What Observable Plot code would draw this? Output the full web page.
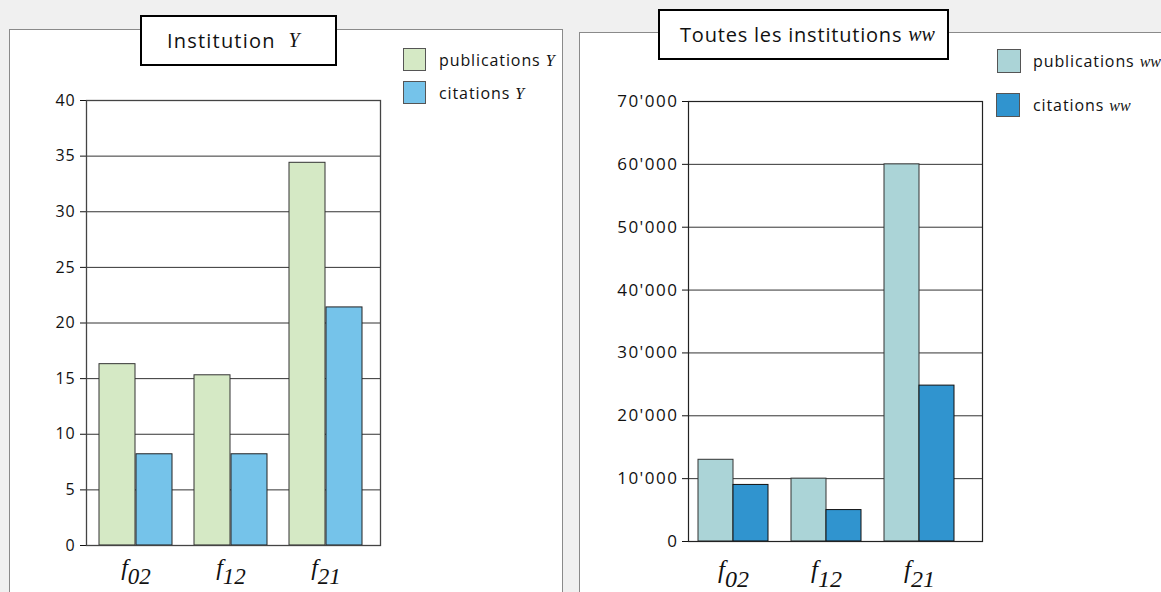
<!DOCTYPE html>
<html><head><meta charset="utf-8">
<script src="https://cdn.jsdelivr.net/npm/d3@7"></script>
<script src="https://cdn.jsdelivr.net/npm/@observablehq/plot@0.6"></script>
<style>
html,body{margin:0;padding:0}
body{background:#f0f0f0;width:1161px;height:592px;overflow:hidden;position:relative;font-family:"Open Sans",sans-serif;color:#111}
.panel{position:absolute;background:#fff;border:1px solid #8a8a8a}
.title{position:absolute;background:#fff;border:2px solid #000;box-sizing:border-box;display:flex;align-items:center;justify-content:flex-start;font-size:20px;letter-spacing:1.2px;color:#111;white-space:nowrap}
.it{font-family:"Liberation Serif",serif;font-style:italic;letter-spacing:0}
.sw{position:absolute;border:1px solid #555;box-sizing:border-box}
.lt{position:absolute;height:22px;line-height:22px;font-size:16px;letter-spacing:0.9px;white-space:nowrap}
.chart{position:absolute;top:0}
</style>
</head><body>
<div class="panel" style="left:9px;top:29px;width:552px;height:600px"></div>
<div class="panel" style="left:579px;top:32px;width:600px;height:600px"></div>
<div class="chart" id="left" style="left:0px"></div>
<div class="chart" id="right" style="left:579px"></div>
<div class="title" style="left:140px;top:15px;width:197px;height:51px;padding-left:25px">Institution&nbsp;&nbsp;<span class="it">Y</span></div>
<div class="title" style="left:658px;top:9px;width:291px;height:51px;padding-left:20px;letter-spacing:0.8px">Toutes les institutions&nbsp;<span class="it">ww</span></div>
<div id="legends"></div>
<script>
// ---- data ----
const categories = ["f02", "f12", "f21"];
const pubY = [16.3, 15.3, 34.4];
const citY = [8.2, 8.2, 21.4];
const pubWW = [13000, 10000, 60000];
const citWW = [9000, 5000, 24800];
const ticksY = [0, 5, 10, 15, 20, 25, 30, 35, 40];
const ticksWW = [0, 10000, 20000, 30000, 40000, 50000, 60000, 70000];
const legendNames = ["publications", "citations"];
const suffixY = "Y";
const suffixWW = "ww";

const colors = {pubY: "#d5e9c5", citY: "#75c3ea", pubWW: "#abd4d7", citWW: "#3094cf"};

const rowsY = categories.map((c, i) => ({cat: c, pub: pubY[i], cit: citY[i]}));
const rowsWW = categories.map((c, i) => ({cat: c, pub: pubWW[i], cit: citWW[i]}));

// turn "f02" into f with subscript 02 (kept as real text)
function subLabels(svg, fSize, subSize, subShift) {
  d3.select(svg).selectAll("text")
    .filter(function() { return categories.includes(this.textContent); })
    .each(function() {
      const t = d3.select(this);
      const s = this.textContent;
      t.text(null);
      t.attr("dy", null);
      t.append("tspan").text(s[0]).attr("font-size", fSize);
      t.append("tspan").text(s.slice(1)).attr("font-size", subSize).attr("dy", subShift);
    });
}

const left = Plot.plot({
  width: 563, height: 592,
  marginLeft: 86, marginRight: 183, marginTop: 100, marginBottom: 47,
  style: {background: "transparent", fontFamily: "Open Sans", fontSize: "16px", letterSpacing: "0.8px", color: "#111"},
  x: {domain: categories, paddingInner: 0.229, paddingOuter: 0.146, align: 0.43, axis: null},
  y: {domain: [0, 40], ticks: ticksY, tickSize: 6, tickPadding: 5, label: null},
  marks: [
    Plot.ruleY(ticksY, {stroke: "#333"}),
    Plot.barY(rowsY, {x: "cat", y: "pub", fill: colors.pubY, stroke: "#333", insetRight: 37}),
    Plot.barY(rowsY, {x: "cat", y: "cit", fill: colors.citY, stroke: "#222", insetLeft: 37}),
    Plot.frame({stroke: "#444", strokeWidth: 1.3}),
    Plot.text(categories, {x: d => d, frameAnchor: "bottom", dy: 29, textAnchor: "middle",
      fontFamily: "Liberation Serif", fontStyle: "italic", fill: "#111"})
  ]
});
subLabels(left, 24, 23, 9);
document.getElementById("left").appendChild(left);

const right = Plot.plot({
  width: 582, height: 592,
  marginLeft: 109, marginRight: 179, marginTop: 101, marginBottom: 51,
  style: {background: "transparent", fontFamily: "Open Sans", fontSize: "17px", letterSpacing: "1.5px", color: "#111"},
  x: {domain: categories, paddingInner: 0.247, paddingOuter: 0.204, align: 0.26, axis: null},
  y: {domain: [0, 70000], ticks: ticksWW, tickSize: 6, tickPadding: 4, label: null,
      tickFormat: d => d3.format(",")(d).replace(/,/g, "'")},
  marks: [
    Plot.ruleY(ticksWW, {stroke: "#333"}),
    Plot.barY(rowsWW, {x: "cat", y: "pub", fill: colors.pubWW, stroke: "#333", insetRight: 35}),
    Plot.barY(rowsWW, {x: "cat", y: "cit", fill: colors.citWW, stroke: "#111", insetLeft: 35}),
    Plot.frame({stroke: "#222", strokeWidth: 1.2}),
    Plot.text(categories, {x: d => d, frameAnchor: "bottom", dy: 36, textAnchor: "middle",
      fontFamily: "Liberation Serif", fontStyle: "italic", fill: "#111"})
  ]
});
subLabels(right, 25, 24, 9);
document.getElementById("right").appendChild(right);

// no letter spacing on the x labels
d3.selectAll("tspan").style("letter-spacing", "0px");

// legends
const lg = d3.select("#legends");
function legend(items) {
  items.forEach(it => {
    lg.append("div").attr("class", "sw")
      .style("left", it.sx + "px").style("top", it.sy + "px")
      .style("width", it.s + "px").style("height", it.s + "px")
      .style("background", it.color);
    const t = lg.append("div").attr("class", "lt")
      .style("left", it.tx + "px").style("top", (it.sy + it.s / 2 - 11) + "px");
    t.append("span").text(it.name + " ");
    t.append("span").attr("class", "it").text(it.suffix);
  });
}
legend([
  {name: legendNames[0], suffix: suffixY, color: colors.pubY, sx: 403, sy: 48, s: 23, tx: 439},
  {name: legendNames[1], suffix: suffixY, color: colors.citY, sx: 403, sy: 81, s: 23, tx: 439},
  {name: legendNames[0], suffix: suffixWW, color: colors.pubWW, sx: 997, sy: 49, s: 24, tx: 1033},
  {name: legendNames[1], suffix: suffixWW, color: colors.citWW, sx: 996, sy: 93, s: 24, tx: 1033}
]);
</script>
</body></html>
